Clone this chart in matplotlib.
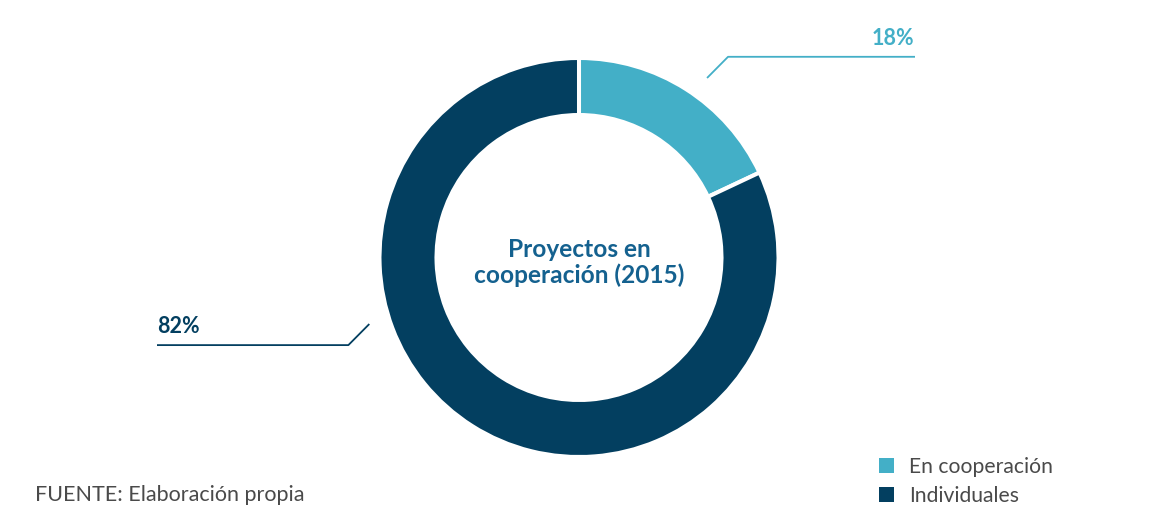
import numpy as np
import matplotlib
matplotlib.use("Agg")
import matplotlib.pyplot as plt
from matplotlib.patches import Patch

plt.rcParams['font.family'] = ['Lato', 'DejaVu Sans']

categories = ['En cooperación', 'Individuales']
shares = [18, 82]
pct_labels = ['18%', '82%']
center_title = 'Proyectos en\ncooperación (2015)'
source_note = 'FUENTE: Elaboración propia'

colors = ['#43afc7', '#033f60']
W, H = 1155, 524

fig = plt.figure(figsize=(W / 100, H / 100), dpi=100)
ax = fig.add_axes([0, 0, 1, 1])

cx, cy = 579, H - 257.5
R = 199.5
ax.pie(shares, colors=colors, startangle=90, counterclock=False,
       radius=R, center=(cx, cy),
       wedgeprops=dict(width=57, edgecolor='white', linewidth=2.9))
ax.set_xlim(0, W)
ax.set_ylim(0, H)
ax.set_aspect('equal')
ax.axis('off')

ax.text(cx, cy - 5, center_title, ha='center', va='center', fontsize=17.6,
        fontweight='bold', color='#14618f', linespacing=1.17)

# leader lines: (angle of tip, tip radius, elbow angle, elbow radius, end x)
leaders = [
    (54.5, 220.5, 53.4, 250, 915),
    (197.6, 220.0, 200.8, 246.7, 157),
]
for (a1, r1, a2, r2, xend), lab, col in zip(leaders, pct_labels, colors):
    x1 = cx + r1 * np.cos(np.radians(a1))
    y1 = cy + r1 * np.sin(np.radians(a1))
    x2 = cx + r2 * np.cos(np.radians(a2))
    y2 = cy + r2 * np.sin(np.radians(a2))
    ax.plot([x1, x2, xend], [y1, y2, y2], color=col, lw=1.3,
            solid_capstyle='butt')
    ha = 'right' if xend > cx else 'left'
    ax.text(xend - 1 if ha == 'right' else xend, y2 + 12, lab, ha=ha,
            va='baseline', fontsize=15.5, fontweight='bold', color=col)

handles = [Patch(facecolor=c, edgecolor='none') for c in colors]
fig.legend(handles, categories, loc='upper left',
           bbox_to_anchor=(879 / W, 1 - 457 / H), frameon=False,
           fontsize=15.2, handlelength=0.72, handleheight=0.72,
           handletextpad=0.72, labelspacing=0.44, labelcolor='#4a4a4a',
           borderpad=0, borderaxespad=0)

fig.text(35 / W, 1 - 501 / H, source_note, ha='left', va='baseline',
         fontsize=15.5, color='#4a4a4a')

fig.savefig('out.png', dpi=100)
